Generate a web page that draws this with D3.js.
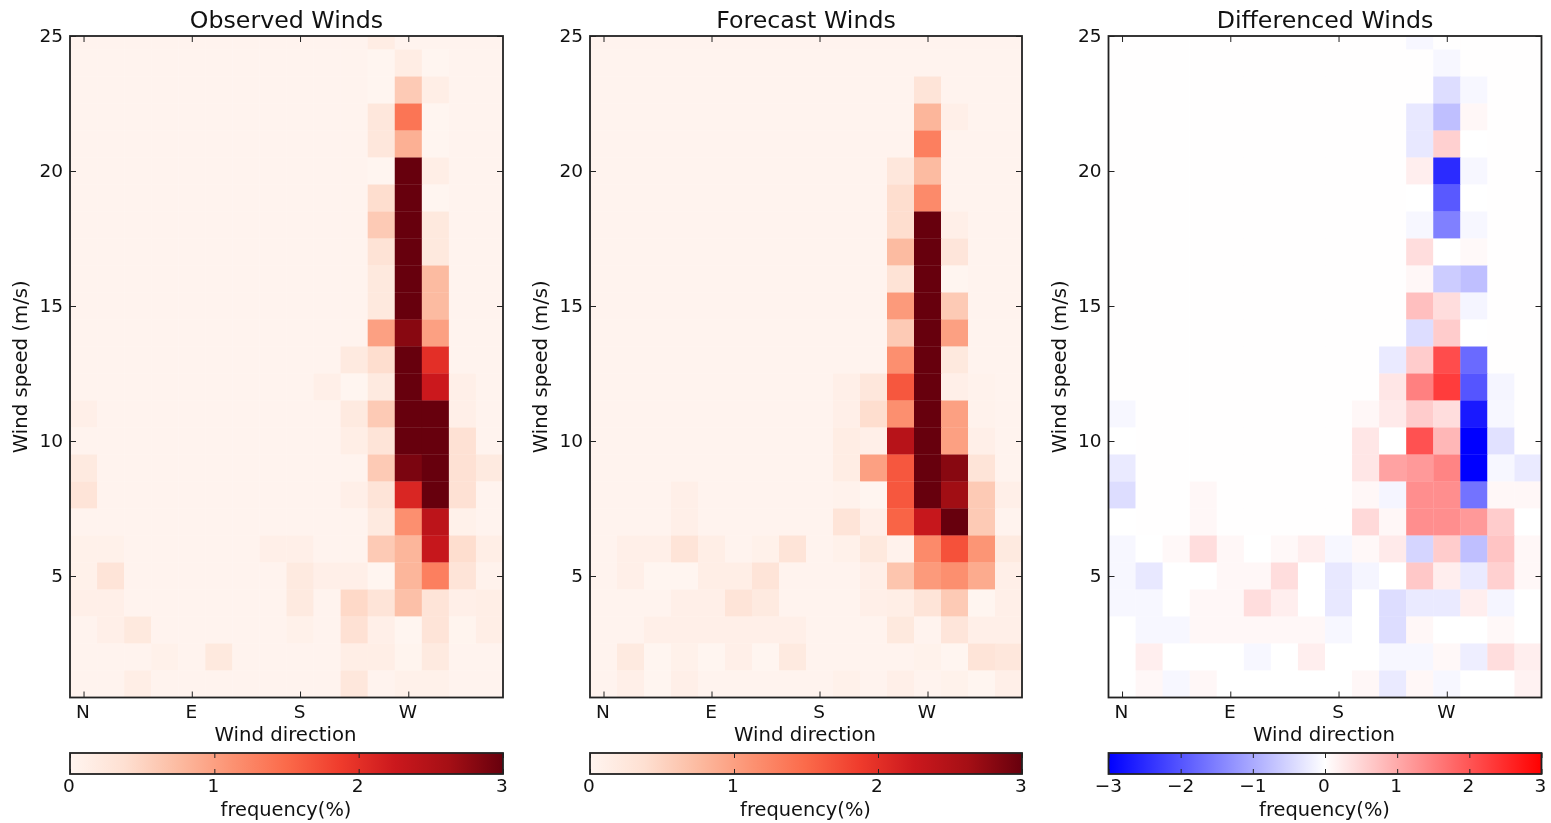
<!DOCTYPE html>
<html>
<head>
<meta charset="utf-8">
<script src="https://d3js.org/d3.v7.min.js"></script>
<style>
    html, body { margin: 0; padding: 0; background: #fff; overflow: hidden; }
    svg { display: block; filter: blur(0.55px); }
    text { font-family: "DejaVu Sans", sans-serif; fill: #111; }
</style>
</head>
<body>
<div id="my_dataviz"></div>
<script>
// rows run from the top of the picture down
const speeds = [25, 24, 23, 22, 21, 20, 19, 18, 17, 16, 15, 14, 13, 12, 11, 10, 9, 8, 7, 6, 5, 4, 3, 2, 1];
const directionTicks = [0, 4, 8, 12];
const directionLabels = ['N', 'E', 'S', 'W'];
const speedTicks = [5, 10, 15, 20, 25];
const redsTicks = [0, 1, 2, 3];
const diffTicks = [-3, -2, -1, 0, 1, 2, 3];
const titles = ['Observed Winds', 'Forecast Winds', 'Differenced Winds'];

const observed = [
    [.03, .03, .03, .03, .03, .03, .03, .03, .03, .03, .03, .15, .03, .03, .03, .03],
    [.03, .03, .03, .03, .03, .03, .03, .03, .03, .03, .03, 0, .15, 0, .03, .03],
    [.03, .03, .03, .03, .03, .03, .03, .03, .03, .03, .03, 0, .6, .12, .03, .03],
    [.03, .03, .03, .03, .03, .03, .03, .03, .03, .03, .03, .25, 1.4, 0, .03, .03],
    [.03, .03, .03, .03, .03, .03, .03, .03, .03, .03, .03, .25, .85, 0, .03, .03],
    [.03, .03, .03, .03, .03, .03, .03, .03, .03, .03, .03, 0, 3, .12, .03, .03],
    [.03, .03, .03, .03, .03, .03, .03, .03, .03, .03, .03, .4, 3, 0, .03, .03],
    [.03, .03, .03, .03, .03, .03, .03, .03, .03, .03, .03, .6, 3, .22, .03, .03],
    [.03, .03, .03, .03, .03, .03, .03, .03, .03, .03, .03, .33, 3, .22, .03, .03],
    [.03, .03, .03, .03, .03, .03, .03, .03, .03, .03, .03, .22, 3, .75, .03, .03],
    [.03, .03, .03, .03, .03, .03, .03, .03, .03, .03, .03, .22, 3, .75, .03, .03],
    [.03, .03, .03, .03, .03, .03, .03, .03, .03, .03, .03, 1, 2.8, 1, .03, .03],
    [.03, .03, .03, .03, .03, .03, .03, .03, .03, .03, .2, .4, 3, 2, .03, .03],
    [.03, .03, .03, .03, .03, .03, .03, .03, .03, .1, 0, .2, 3, 2.25, .1, .03],
    [.1, .03, .03, .03, .03, .03, .03, .03, .03, .03, .2, .6, 3, 3, .1, .03],
    [.03, .03, .03, .03, .03, .03, .03, .03, .03, .03, .12, .3, 3, 3, .35, .03],
    [.2, .03, .03, .03, .03, .03, .03, .03, .03, .03, .03, .6, 2.88, 3, .35, .2],
    [.3, .03, .03, .03, .03, .03, .03, .03, .03, .03, .1, .3, 2.1, 3, .35, .03],
    [.03, .03, .03, .03, .03, .03, .03, .03, .03, .03, .03, .2, 1.15, 2.4, .07, .03],
    [.08, .08, .03, .03, .03, .03, .03, .1, .1, .03, .03, .6, .8, 2.3, .4, .12],
    [.08, .3, .03, .03, .03, .03, .03, .03, .2, .1, .1, 0, .8, 1.3, .3, .05],
    [.1, .1, .03, .03, .03, .03, .03, .03, .2, .03, .45, .3, .7, .3, .1, .12],
    [.03, .1, .22, .03, .03, .03, .03, .03, .08, .03, .35, .1, 0, .3, .02, .12],
    [.03, .03, .03, .08, .03, .22, .03, .03, .03, .03, .12, .12, .02, .2, .03, .03],
    [.03, .03, .12, .03, .03, .03, .03, .03, .03, .03, .25, .03, .07, .07, .03, .03]
];

const forecast = [
    [.03, .03, .03, .03, .03, .03, .03, .03, .03, .03, .03, .03, .03, .03, .03, .03],
    [.03, .03, .03, .03, .03, .03, .03, .03, .03, .03, .03, .03, .03, .03, .03, .03],
    [.03, .03, .03, .03, .03, .03, .03, .03, .03, .03, .03, .03, .3, .03, .03, .03],
    [.03, .03, .03, .03, .03, .03, .03, .03, .03, .03, .03, .03, .8, .1, .03, .03],
    [.03, .03, .03, .03, .03, .03, .03, .03, .03, .03, .03, .03, 1.3, .03, .03, .03],
    [.03, .03, .03, .03, .03, .03, .03, .03, .03, .03, .03, .25, .75, .03, .03, .03],
    [.03, .03, .03, .03, .03, .03, .03, .03, .03, .03, .03, .4, 1.2, .03, .03, .03],
    [.03, .03, .03, .03, .03, .03, .03, .03, .03, .03, .03, .4, 3, .1, .03, .03],
    [.03, .03, .03, .03, .03, .03, .03, .03, .03, .03, .03, .75, 3, .28, .03, .03],
    [.03, .03, .03, .03, .03, .03, .03, .03, .03, .03, .03, .33, 3, 0, .03, .03],
    [.03, .03, .03, .03, .03, .03, .03, .03, .03, .03, .03, 1.05, 3, .6, .03, .03],
    [.03, .03, .03, .03, .03, .03, .03, .03, .03, .03, .03, .6, 3, 1, .03, .03],
    [.03, .03, .03, .03, .03, .03, .03, .03, .03, .03, .03, 1.15, 3, .22, .03, .03],
    [.03, .03, .03, .03, .03, .03, .03, .03, .03, .1, .25, 1.65, 3, .1, .05, .03],
    [.03, .03, .03, .03, .03, .03, .03, .03, .03, .1, .4, 1.15, 3, 1, .05, .03],
    [.03, .03, .03, .03, .03, .03, .03, .03, .03, .15, .1, 2.45, 3, 1, .1, .03],
    [.03, .03, .03, .03, .03, .03, .03, .03, .03, .15, 1, 1.65, 3, 2.8, .3, .03],
    [.03, .03, .03, .1, .03, .03, .03, .03, .03, .05, 0, 1.65, 3, 2.65, .6, .1],
    [.03, .03, .03, .1, .03, .03, .03, .03, .03, .3, .1, 1.55, 2.3, 3, .6, .03],
    [.03, .1, .1, .3, .12, .03, .08, .3, .03, .08, .22, .05, 1.2, 1.7, 1.1, .2],
    [.03, .1, 0, 0, .13, .13, .3, .03, .03, .03, .1, .65, 1.05, 1.15, .9, .1],
    [.03, .03, .03, .1, .1, .3, .2, .03, .03, .03, .1, .12, .3, .6, 0, .1],
    [.03, .03, .1, .1, .1, .1, .1, .1, .03, .03, .03, .22, .03, .28, .1, .1],
    [.03, .2, 0, .08, 0, .1, 0, .2, .03, .03, .03, .03, .06, 0, .3, .25],
    [.03, .1, 0, .1, .03, .03, .03, .03, .03, .08, .03, .1, .03, .06, 0, .1]
];

const differenced = [
    [.01, .01, .01, .01, .01, .01, .01, .01, .01, .01, .01, -.1, .01, .01, .01, .01],
    [.01, .01, .01, .01, .01, .01, .01, .01, .01, .01, .01, .01, -.1, .01, .01, .01],
    [.01, .01, .01, .01, .01, .01, .01, .01, .01, .01, .01, .01, -.4, -.1, .01, .01],
    [.01, .01, .01, .01, .01, .01, .01, .01, .01, .01, .01, -.27, -.75, .1, .01, .01],
    [.01, .01, .01, .01, .01, .01, .01, .01, .01, .01, .01, -.27, .55, 0, .01, .01],
    [.01, .01, .01, .01, .01, .01, .01, .01, .01, .01, .01, .2, -2.5, -.1, .01, .01],
    [.01, .01, .01, .01, .01, .01, .01, .01, .01, .01, .01, 0, -1.95, 0, .01, .01],
    [.01, .01, .01, .01, .01, .01, .01, .01, .01, .01, .01, -.1, -1.5, -.1, .01, .01],
    [.01, .01, .01, .01, .01, .01, .01, .01, .01, .01, .01, .4, 0, .07, .01, .01],
    [.01, .01, .01, .01, .01, .01, .01, .01, .01, .01, .01, .1, -.6, -.75, .01, .01],
    [.01, .01, .01, .01, .01, .01, .01, .01, .01, .01, .01, .75, .4, -.12, .01, .01],
    [.01, .01, .01, .01, .01, .01, .01, .01, .01, .01, .01, -.4, .6, 0, .01, .01],
    [.01, .01, .01, .01, .01, .01, .01, .01, .01, .01, -.25, .6, 2.1, -1.75, .01, .01],
    [.01, .01, .01, .01, .01, .01, .01, .01, .01, .01, .3, 1.5, 2.3, -2, -.12, .01],
    [-.1, .01, .01, .01, .01, .01, .01, .01, .01, .1, .25, .6, .4, -2.7, -.1, .01],
    [0, .01, .01, .01, .01, .01, .01, .01, .01, .3, 0, 2.05, .85, -3, -.35, .01],
    [-.25, .01, .01, .01, .01, .01, .01, .01, .01, .3, 1.1, 1.2, 1.45, -3, -.1, -.25],
    [-.4, .01, .01, .1, .01, .01, .01, .01, .01, .1, -.12, 1.33, 1.33, -1.65, .1, .1],
    [0, .01, .01, .1, .01, .01, .01, .01, .01, .45, .1, 1.33, 1.33, 1.2, .6, 0],
    [-.1, 0, .08, .4, .1, 0, .08, .2, -.1, .08, .25, -.5, .6, -.75, .7, .1],
    [-.1, -.27, 0, 0, .1, .1, .4, 0, -.27, -.12, 0, .65, .2, -.25, .55, .1],
    [-.1, -.1, 0, .1, .1, .4, .2, 0, -.27, 0, -.4, -.25, -.25, .2, -.12, 0],
    [0, -.1, -.1, .1, .1, .1, .1, .1, -.1, 0, -.4, .1, 0, 0, .08, 0],
    [0, .2, 0, 0, 0, -.1, 0, .2, 0, 0, -.1, -.1, .08, -.2, .4, .2],
    [0, .1, -.1, .1, 0, 0, 0, 0, 0, .1, -.25, .1, -.1, 0, 0, .15]
];

const redsStops = d3.schemeReds[9].map(c => c);
const bwrStops = ['#0000ff', '#ffffff', '#ff0000'];

function windViz() {
    var panelTop = 36, panelBottom = 697.5;
    var panelLefts = [70, 590, 1108.5];
    var panelWidths = [433, 432, 433];
    var barTop = 753, barBottom = 774;

    var svg = d3.select('#my_dataviz')
        .append('svg')
        .attr('width', 1551)
        .attr('height', 823);

    var defs = svg.append('defs');

    var redsColor = d3.scaleLinear()
        .domain(d3.range(9).map(i => i * 3 / 8))
        .range(redsStops)
        .clamp(true);
    var bwrColor = d3.scaleLinear()
        .domain([-3, 0, 3])
        .range(bwrStops)
        .clamp(true);

    var panels = [
        { values: observed, color: redsColor, stops: redsStops, barDomain: [0, 3], barTicks: redsTicks },
        { values: forecast, color: redsColor, stops: redsStops, barDomain: [0, 3], barTicks: redsTicks },
        { values: differenced, color: bwrColor, stops: bwrStops, barDomain: [-3, 3], barTicks: diffTicks }
    ];

    panels.forEach((panel, p) => {
        var left = panelLefts[p];
        var panelWidth = panelWidths[p];
        var g = svg.append('g').attr('transform', 'translate(' + left + ',0)');

        var x = d3.scaleLinear().domain([-0.5, 15.5]).range([0, panelWidth]);
        var y = d3.scaleLinear().domain([0.5, 25]).range([panelBottom, panelTop]).clamp(true);

        // cells, one per speed and direction
        speeds.forEach((speed, r) => {
            g.append('g')
                .selectAll('rect')
                .data(panel.values[r])
                .enter()
                .append('rect')
                .attr('x', (d, i) => x(i - 0.5))
                .attr('y', y(speed + 0.5))
                .attr('width', (d, i) => Math.min(x(i + 0.5) - x(i - 0.5) + 0.3, panelWidth - x(i - 0.5)))
                .attr('height', Math.min(y(speed - 0.5) - y(speed + 0.5) + 0.3, panelBottom - y(speed + 0.5)))
                .attr('fill', d => panel.color(d));
        });

        // Axes
        var xLabel = d3.scaleOrdinal().domain(directionTicks).range(directionLabels);
        var bottomAxis = g.append('g')
            .attr('transform', 'translate(0,' + panelBottom + ')')
            .call(d3.axisBottom(x).tickValues(directionTicks).tickFormat(d => xLabel(d)).tickSize(-6).tickPadding(7));
        var topAxis = g.append('g')
            .attr('transform', 'translate(0,' + panelTop + ')')
            .call(d3.axisTop(x).tickValues(directionTicks).tickFormat('').tickSize(-6));
        var leftAxis = g.append('g')
            .call(d3.axisLeft(y).tickValues(speedTicks).tickSize(-6).tickPadding(7));
        var rightAxis = g.append('g')
            .attr('transform', 'translate(' + panelWidth + ',0)')
            .call(d3.axisRight(y).tickValues(speedTicks).tickFormat('').tickSize(-6));

        [bottomAxis, topAxis, leftAxis, rightAxis].forEach(a => {
            a.select('.domain').remove();
            a.selectAll('line').attr('stroke', '#222').attr('stroke-width', 1);
            a.selectAll('text').attr('font-size', 18.5).attr('font-family', '"DejaVu Sans"').attr('fill', '#111');
        });
        bottomAxis.selectAll('text').attr('dx', -1);

        g.append('rect')
            .attr('x', 0)
            .attr('y', panelTop)
            .attr('width', panelWidth)
            .attr('height', panelBottom - panelTop)
            .attr('fill', 'none')
            .attr('stroke', '#222')
            .attr('stroke-width', 1.8);

        g.append('text')
            .attr('x', panelWidth / 2)
            .attr('y', 27.5)
            .style('text-anchor', 'middle')
            .attr('font-size', 23.7)
            .text(titles[p]);

        g.append('text')
            .attr('x', panelWidth / 2 - 1)
            .attr('y', 741)
            .style('text-anchor', 'middle')
            .attr('font-size', 19.7)
            .text('Wind direction');

        g.append('text')
            .attr('transform', 'translate(-43,' + ((panelTop + panelBottom) / 2) + ') rotate(-90)')
            .style('text-anchor', 'middle')
            .attr('font-size', 19.7)
            .text('Wind speed (m/s)');

        // Colorbar
        var gradId = 'bar' + p;
        defs.append('linearGradient')
            .attr('id', gradId)
            .selectAll('stop')
            .data(panel.stops)
            .enter()
            .append('stop')
            .attr('offset', (d, i) => i / (panel.stops.length - 1))
            .attr('stop-color', d => d);

        g.append('rect')
            .attr('x', 0)
            .attr('y', barTop)
            .attr('width', panelWidth)
            .attr('height', barBottom - barTop)
            .attr('fill', 'url(#' + gradId + ')')
            .attr('stroke', '#222')
            .attr('stroke-width', 1.8);

        var barScale = d3.scaleLinear().domain(panel.barDomain).range([0, panelWidth]);
        var barBottomAxis = g.append('g')
            .attr('transform', 'translate(0,' + barBottom + ')')
            .call(d3.axisBottom(barScale).tickValues(panel.barTicks).tickFormat(d3.format('d')).tickSize(-5).tickPadding(5));
        var barTopAxis = g.append('g')
            .attr('transform', 'translate(0,' + barTop + ')')
            .call(d3.axisTop(barScale).tickValues(panel.barTicks).tickFormat('').tickSize(-5));
        [barBottomAxis, barTopAxis].forEach(a => {
            a.select('.domain').remove();
            a.selectAll('line').attr('stroke', '#222').attr('stroke-width', 1);
            a.selectAll('text').attr('font-size', 18.5).attr('font-family', '"DejaVu Sans"').attr('fill', '#111');
        });
        barBottomAxis.selectAll('text').attr('dx', d => d < 0 ? -0.5 : -1.5);

        g.append('text')
            .attr('x', panelWidth / 2 - 0.5)
            .attr('y', 816)
            .style('text-anchor', 'middle')
            .attr('font-size', 19.4)
            .text('frequency(%)');
    });
}

windViz();
</script>
</body>
</html>
